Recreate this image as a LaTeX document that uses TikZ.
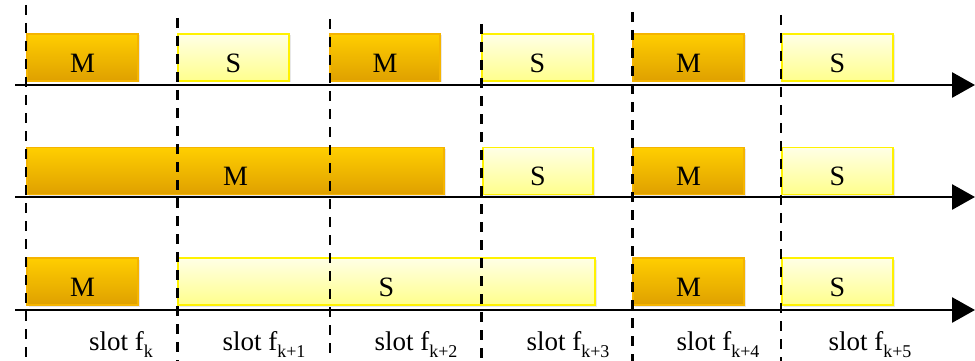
\documentclass[tikz,border=0pt]{standalone}
\usepackage{fontspec}
\setmainfont{Liberation Serif}
\usetikzlibrary{arrows.meta,shadows}
\definecolor{mtop}{HTML}{FFCE00}
\definecolor{mbot}{HTML}{DFA000}
\definecolor{mborder}{HTML}{F5B400}
\definecolor{stop}{HTML}{FFFFE6}
\definecolor{sbot}{HTML}{FFFF8C}
\definecolor{sborder}{HTML}{FFF200}
\tikzset{
  boxbase/.style={rectangle, inner sep=0pt, minimum height=47pt,
    font=\fontsize{28}{30}\selectfont, text height=29.5pt, text depth=0pt,
    drop shadow={opacity=0.18, shadow xshift=1.5pt, shadow yshift=-1.5pt}},
  mbox/.style={boxbase, draw=mborder, line width=1.2pt, top color=mtop, bottom color=mbot},
  sbox/.style={boxbase, draw=sborder, line width=1.5pt, top color=stop, bottom color=sbot},
  axisline/.style={line width=2.8pt, -{Triangle[length=23pt,width=25pt]}},
  dashline/.style={line width=2.3pt, dash pattern=on 10pt off 8pt},
  slotlabel/.style={anchor=base, inner sep=0pt, font=\fontsize{27}{30}\selectfont}
}
\newcommand{\slotsub}[1]{f\raisebox{-7.5pt}{\fontsize{18}{20}\selectfont #1}}
\begin{document}
\begin{tikzpicture}[x=1pt,y=-1pt]
\useasboundingbox (0,0) rectangle (975,361);
% row 1
\node[mbox, minimum width=111pt] (r1m1) at (82.5,57.5) {M};
\node[sbox, minimum width=111pt] (r1s1) at (233.5,57.5) {S};
\node[mbox, minimum width=110pt] (r1m2) at (385,57.5) {M};
\node[sbox, minimum width=111pt] (r1s2) at (537.5,57.5) {S};
\node[mbox, minimum width=111pt] (r1m3) at (688.5,57.5) {M};
\node[sbox, minimum width=111pt] (r1s3) at (837.5,57.5) {S};
% row 2
\node[mbox, minimum width=417pt] (r2m1) at (235.5,171) {M};
\node[sbox, minimum width=110pt] (r2s1) at (538,171) {S};
\node[mbox, minimum width=111pt] (r2m2) at (688.5,171) {M};
\node[sbox, minimum width=111pt] (r2s2) at (837.5,171) {S};
% row 3
\node[mbox, minimum width=111pt] (r3m1) at (82.5,281.5) {M};
\node[sbox, minimum width=417pt] (r3s1) at (386.5,281.5) {S};
\node[mbox, minimum width=111pt] (r3m2) at (688.5,281.5) {M};
\node[sbox, minimum width=111pt] (r3s2) at (837.5,281.5) {S};
% axes
\coordinate (a1s) at (15,85);  \coordinate (a1e) at (975,85);
\coordinate (a2s) at (15,197); \coordinate (a2e) at (975,197);
\coordinate (a3s) at (15,310); \coordinate (a3e) at (975,310);
\draw[axisline] (a1s) -- (a1e);
\draw[axisline] (a2s) -- (a2e);
\draw[axisline] (a3s) -- (a3e);
% dashed slot boundaries
\coordinate (d1t) at (26,5);   \coordinate (d1b) at (26,361);
\coordinate (d2t) at (177.5,18); \coordinate (d2b) at (177.5,361);
\coordinate (d3t) at (330,19); \coordinate (d3b) at (330,361);
\coordinate (d4t) at (481.5,24); \coordinate (d4b) at (481.5,361);
\coordinate (d5t) at (632.5,12); \coordinate (d5b) at (632.5,361);
\coordinate (d6t) at (781,15); \coordinate (d6b) at (781,361);
\draw[dashline] (d1t) -- (d1b);
\draw[dashline] (d2t) -- (d2b);
\draw[dashline] (d3t) -- (d3b);
\draw[dashline] (d4t) -- (d4b);
\draw[dashline] (d5t) -- (d5b);
\draw[dashline] (d6t) -- (d6b);
% slot labels
\node[slotlabel] (l0) at (121,350) {slot \slotsub{k}};
\node[slotlabel] (l1) at (264,350) {slot \slotsub{k+1}};
\node[slotlabel] (l2) at (416,350) {slot \slotsub{k+2}};
\node[slotlabel] (l3) at (568,350) {slot \slotsub{k+3}};
\node[slotlabel] (l4) at (718,350) {slot \slotsub{k+4}};
\node[slotlabel] (l5) at (870,350) {slot \slotsub{k+5}};
\end{tikzpicture}
\end{document}
